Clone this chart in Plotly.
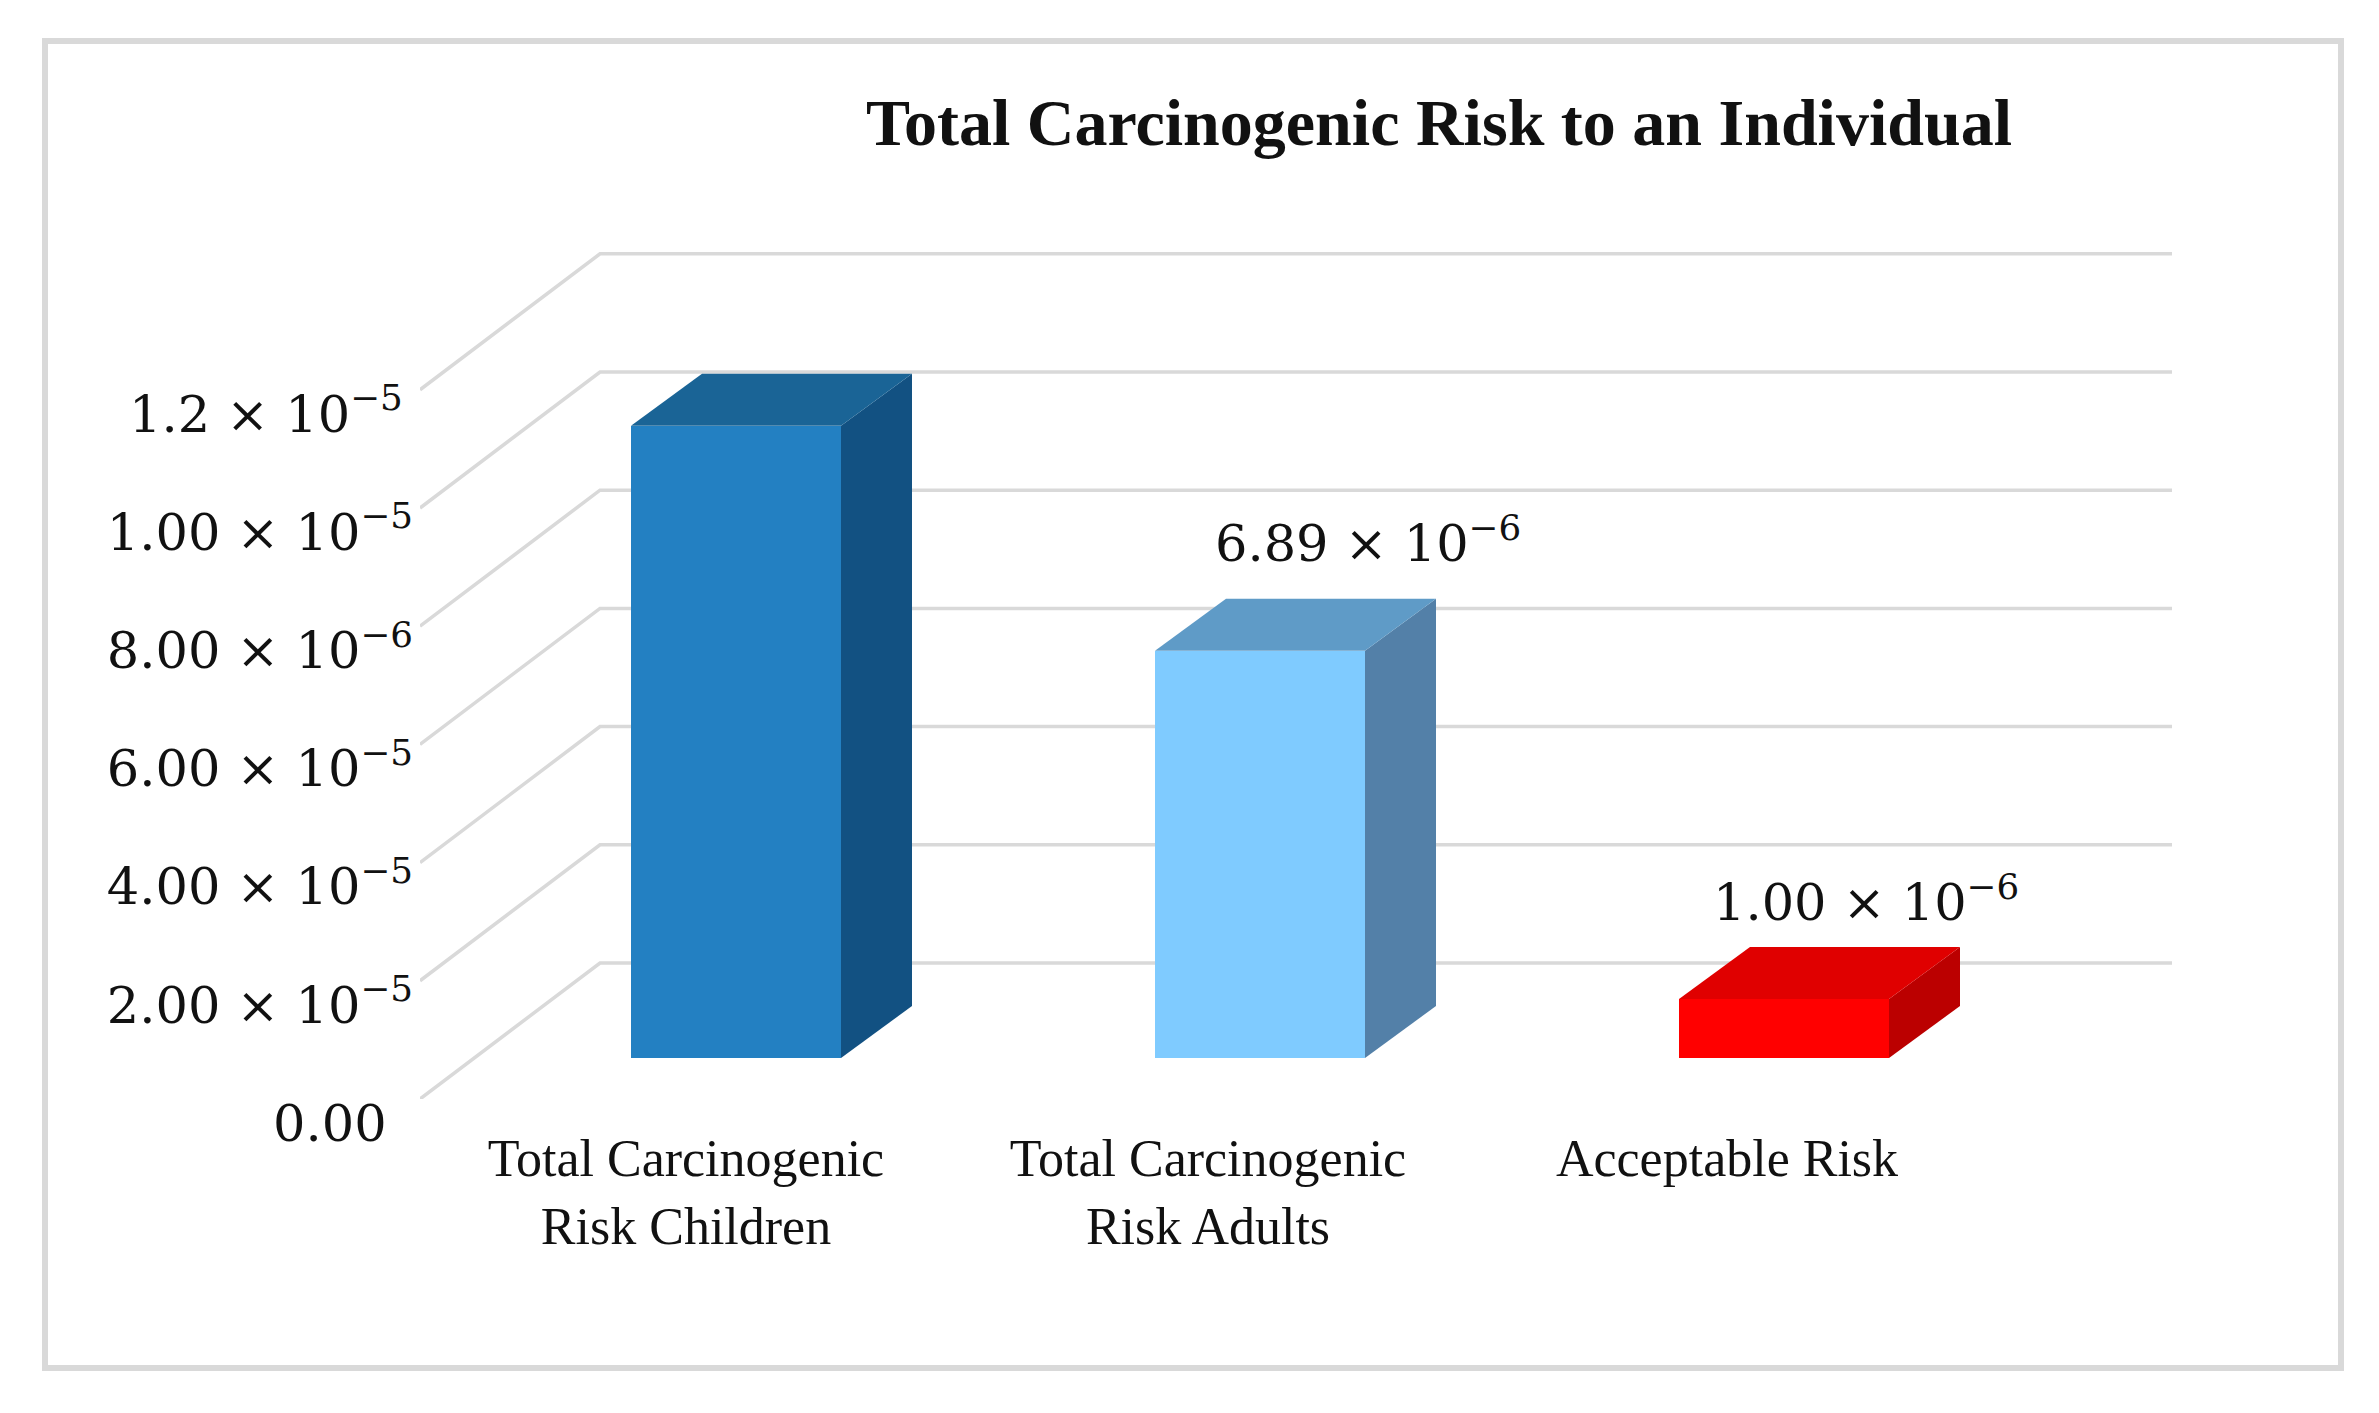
import plotly.graph_objects as go

# ---- data ----
categories = ["Total Carcinogenic<br>Risk Children", "Total Carcinogenic<br>Risk Adults", "Acceptable Risk"]
risk_values = [1.07e-5, 6.89e-6, 1.00e-6]
front_colors = ["#2380c2", "#7fcbff", "#ff0000"]
side_colors = ["#125182", "#5380a8", "#bb0000"]
top_colors = ["#1a6496", "#5f9bc7", "#e00000"]
data_labels = [None, "6.89 × 10<sup>−6</sup>", "1.00 × 10<sup>−6</sup>"]
label_shift_x = [0, 108, 82]
label_shift_y = [0, 111, 100]
category_shift = [50, 52, 57]
y_tick_values = [0, 2e-6, 4e-6, 6e-6, 8e-6, 1e-5, 1.2e-5]
y_tick_labels = [
    "0.00\u00a0\u2009",
    "2.00 × 10<sup>−5</sup>",
    "4.00 × 10<sup>−5</sup>",
    "6.00 × 10<sup>−5</sup>",
    "8.00 × 10<sup>−6</sup>",
    "1.00 × 10<sup>−5</sup>",
    "1.2 × 10<sup>−5</sup>\u2009",
]
title_text = "<b>Total Carcinogenic Risk to an Individual</b>"

# ---- layout constants (page pixels) ----
W, H = 2379, 1413
PL, PR, PT, PB = 420, 2172, 250, 1099      # plot area
X0_PX, X_UNIT = 736, 524                   # pixel of first bar centre, pixels per category
Y0_PX, Y_UNIT = 1058, 118.2 / 2e-6         # pixel of value 0, pixels per unit
BAR_W = 210 / X_UNIT
DX = 71 / X_UNIT                           # bar depth
DY = 52 / Y_UNIT
WALL_X = (600 - X0_PX) / X_UNIT            # back wall left end
WALL_DY = (Y0_PX - 963) / Y_UNIT           # back wall lift
FRONT_X = (PL - X0_PX) / X_UNIT            # front end of the slanted grid segment
FRONT_DY = (1099 - Y0_PX) / Y_UNIT
X_END = (PR - X0_PX) / X_UNIT
FONT = "Liberation Serif"
MATH_FONT = "DejaVu Serif"
TEXT = "#111111"


def paper_x(p):
    return (p - PL) / (PR - PL)


def paper_y(p):
    return (PB - p) / (PB - PT)


x_pos = list(range(len(categories)))
fig = go.Figure()
fig.add_trace(go.Bar(x=x_pos, y=risk_values, width=BAR_W, marker=dict(color=front_colors, line=dict(width=0)),
                     showlegend=False))
for i, v in zip(x_pos, risk_values):
    r = i + BAR_W / 2
    l = i - BAR_W / 2
    fig.add_trace(go.Scatter(x=[r, r + DX, r + DX, r, r], y=[0, DY, v + DY, v, 0], mode="lines", fill="toself",
                             fillcolor=side_colors[i], line=dict(width=0), showlegend=False, hoverinfo="skip"))
    fig.add_trace(go.Scatter(x=[l, r, r + DX, l + DX, l], y=[v, v, v + DY, v + DY, v], mode="lines", fill="toself",
                             fillcolor=top_colors[i], line=dict(width=0), showlegend=False, hoverinfo="skip"))

shapes = [dict(type="rect", xref="paper", yref="paper", x0=paper_x(45), x1=paper_x(2341), y0=paper_y(1368),
               y1=paper_y(41), line=dict(color="#d9d9d9", width=6), fillcolor="white", layer="below")]
for t in y_tick_values:
    shapes.append(dict(type="path", xref="x", yref="y", layer="below", line=dict(color="#d9d9d9", width=3.5),
                       path=f"M {FRONT_X} {t - FRONT_DY} L {WALL_X} {t + WALL_DY} L {X_END} {t + WALL_DY}"))

annotations = []
for i, (v, lab) in enumerate(zip(risk_values, data_labels)):
    if lab:
        annotations.append(dict(x=i, y=v, xref="x", yref="y", text=lab, showarrow=False, xanchor="center",
                                yanchor="middle", xshift=label_shift_x[i], yshift=label_shift_y[i],
                                font=dict(family=MATH_FONT, size=51, color=TEXT)))

fig.update_layout(
    width=W, height=H,
    margin=dict(l=PL, r=W - PR, t=PT, b=H - PB, autoexpand=False),
    paper_bgcolor="white", plot_bgcolor="rgba(0,0,0,0)",
    title=dict(text=title_text, x=1439 / W, y=1 - 122 / H, xanchor="center", yanchor="middle",
               font=dict(family=FONT, size=66, color=TEXT)),
    xaxis=dict(range=[(PL - X0_PX) / X_UNIT, (PR - X0_PX) / X_UNIT], tickmode="array",
               tickvals=[i - s / X_UNIT for i, s in zip(x_pos, category_shift)], ticktext=categories, showgrid=False,
               zeroline=False, showline=False, ticks="", tickangle=0, ticklabelstandoff=24,
               tickfont=dict(family=FONT, size=52, color=TEXT)),
    yaxis=dict(range=[(Y0_PX - PB) / Y_UNIT, (Y0_PX - PT) / Y_UNIT], tickmode="array", tickvals=y_tick_values,
               ticktext=y_tick_labels, showgrid=False, zeroline=False, showline=False, ticks="", ticklabelshift=65,
               ticklabelstandoff=6, tickfont=dict(family=MATH_FONT, size=51, color=TEXT)),
    shapes=shapes, annotations=annotations, bargap=0,
)
fig.write_html("out.html", config={"displayModeBar": False}, post_script="document.body.style.margin='0';")
